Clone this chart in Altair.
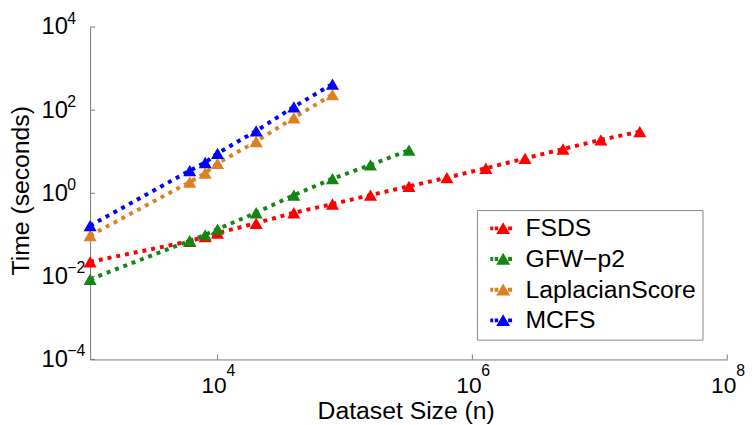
import altair as alt
import pandas as pd

series_names = ["FSDS", "GFW\u2212p2", "LaplacianScore", "MCFS"]
series_colors = ["#ff0000", "#138613", "#de7f22", "#0000ff"]

fsds_n = [1000, 6050, 8000, 10000, 20100, 39700, 79800, 158500, 318000, 631000,
          1276000, 2590000, 5140000, 10200000, 20600000]
fsds_t = [0.0224, 0.07, 0.091, 0.11, 0.19, 0.34, 0.55, 0.9, 1.47, 2.37,
          4.0, 6.9, 11.6, 19.3, 30.4]

gfw_n = [1000, 6050, 8000, 10000, 20100, 39700, 79800, 158500, 318000]
gfw_t = [0.0085, 0.072, 0.1, 0.137, 0.34, 0.9, 2.24, 4.8, 10.9]

ls_n = [1000, 6050, 8000, 10000, 20100, 39700, 79800]
ls_t = [0.096, 1.86, 3.04, 5.26, 17.6, 65.6, 237]

mcfs_n = [1000, 6050, 8000, 10000, 20100, 39700, 79800]
mcfs_t = [0.166, 3.5, 5.5, 9.1, 31.6, 120, 424]

x_ticks = [1e4, 1e6, 1e8]
x_exps = ["4", "6", "8"]
y_ticks = [1e-4, 1e-2, 1, 1e2, 1e4]
y_exps = ["\u22124", "\u22122", "0", "2", "4"]

rows = []
for name, ns, ts in zip(series_names, [fsds_n, gfw_n, ls_n, mcfs_n],
                        [fsds_t, gfw_t, ls_t, mcfs_t]):
    for n, t in zip(ns, ts):
        rows.append({"series": name, "n": n, "t": t})
df = pd.DataFrame(rows)

FONT = "Liberation Sans"
AX = "#777777"
W, H = 644, 336

xscale = alt.Scale(type="log", domain=[1e3, 1e8], nice=False)
yscale = alt.Scale(type="log", domain=[1e-4, 1e4], nice=False)
color_scale = alt.Scale(domain=series_names, range=series_colors)

sym_path = ("M-2.6,-0.4H-2.0V0.4H-2.6Z M-1.7,-0.4H-1.0V0.4H-1.7Z "
            "M0,-1.25L1.4,1.15L-1.4,1.15Z M1.0,-0.4H1.8V0.4H1.0Z")

legend = alt.Legend(
    title=None, orient="none", legendX=391, legendY=185,
    fillColor="white", strokeColor="#888888", padding=6, rowPadding=5,
    labelFont=FONT, labelFontSize=25, labelColor="black", labelLimit=0,
    symbolType=sym_path, symbolSize=100, symbolStrokeWidth=0, symbolOpacity=1,
    symbolOffset=8, labelOffset=10,
)

x_axis = alt.Axis(
    values=x_ticks, labelExpr="'10'", title="Dataset Size (n)",
    titleFont=FONT, titleFontSize=25, titleFontWeight="normal", titleColor="black",
    titleY=60, titleX=319, titleBaseline="alphabetic",
    labelFont=FONT, labelFontSize=23, labelColor="black", labelPadding=15,
    labelOffset=-4, labelFlush=False, labelOverlap=False,
    tickSize=0, grid=False, domainColor=AX, domainWidth=1,
)
y_axis = alt.Axis(
    values=y_ticks, labelExpr="'10'", title="Time (seconds)",
    titleFont=FONT, titleFontSize=25, titleFontWeight="normal", titleColor="black",
    titleX=-62, titleY=165, titleBaseline="alphabetic", titleAngle=-90,
    labelFont=FONT, labelFontSize=24, labelColor="black", labelPadding=23,
    labelFlush=False, labelOverlap=False,
    tickSize=0, grid=False, domainColor=AX, domainWidth=1,
)

base = alt.Chart(df)

lines = base.mark_line(strokeWidth=4, strokeDash=[4, 5]).encode(
    x=alt.X("n:Q", scale=xscale, axis=x_axis),
    y=alt.Y("t:Q", scale=yscale, axis=y_axis),
    color=alt.Color("series:N", scale=color_scale, legend=legend),
)

points = base.mark_point(shape="triangle-up", filled=True, size=175, opacity=1).encode(
    x=alt.X("n:Q", scale=xscale),
    y=alt.Y("t:Q", scale=yscale),
    color=alt.Color("series:N", scale=color_scale, legend=legend),
)

xdf = pd.DataFrame({"v": x_ticks, "e": x_exps})
ydf = pd.DataFrame({"v": y_ticks, "e": y_exps})

xt = alt.Chart(xdf).mark_rule(color=AX, strokeWidth=1).encode(
    x=alt.X("v:Q", scale=xscale),
    y=alt.value(H),
    y2=alt.value(H - 5),
)
yt = alt.Chart(ydf).mark_rule(color=AX, strokeWidth=1).encode(
    y=alt.Y("v:Q", scale=yscale),
    x=alt.value(0),
    x2=alt.value(5),
)
xe = alt.Chart(xdf).mark_text(font=FONT, fontSize=16, align="left", baseline="middle",
                              dx=9, dy=12, color="black").encode(
    x=alt.X("v:Q", scale=xscale),
    y=alt.value(H),
    text="e:N",
)
ye = alt.Chart(ydf).mark_text(font=FONT, fontSize=16, align="left", baseline="middle",
                              dx=-23, dy=-8, color="black").encode(
    y=alt.Y("v:Q", scale=yscale),
    x=alt.value(0),
    text="e:N",
)

chart = alt.layer(lines, points, xt, yt, xe, ye).properties(
    width=W, height=H,
    autosize=alt.AutoSizeParams(type="none"),
    padding={"left": 83, "top": 17, "right": 21, "bottom": 64},
).configure_view(stroke=None)

chart.save("out.html", embed_options={"renderer": "svg", "actions": False})
